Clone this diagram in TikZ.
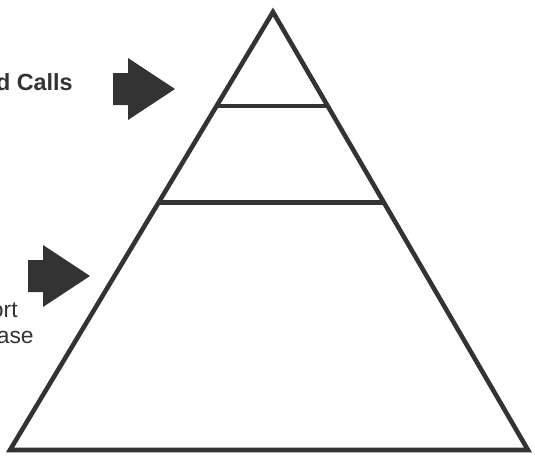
\documentclass[tikz,border=0pt]{standalone}
\usepackage{fontspec}
\setsansfont{Liberation Sans}
\usetikzlibrary{calc,positioning}
\definecolor{ink}{HTML}{333333}
\tikzset{
  layer/.style={line width=2.6pt,draw=ink,line join=miter},
  tag/.style={font=\sffamily\fontsize{13}{15}\selectfont,text=ink,inner sep=0pt},
  bigarrow/.pic={\fill[ink] (-62,-16) -- (-47,-16) -- (-47,-31) -- (0,0) -- (-47,31) -- (-47,16) -- (-62,16) -- cycle;}
}
\begin{document}
\begin{tikzpicture}[x=0.02cm,y=-0.02cm]
\useasboundingbox (0,0) rectangle (535,457);
\coordinate (top) at (273,12);
\coordinate (left) at (10,450);
\coordinate (right) at (528,450);
\draw[layer] (left) -- (top) -- (right) -- cycle;
% layer lines
\coordinate (l1) at ($(top)!0.215!(left)$);
\coordinate (r1) at ($(top)!0.215!(right)$);
\coordinate (l2) at ($(top)!0.435!(left)$);
\coordinate (r2) at ($(top)!0.435!(right)$);
\draw[layer] (l1) -- (r1);
\draw[layer] (l2) -- (r2);
% arrows and labels
\pic (callsarrow) at (175,89) {bigarrow};
\pic (basearrow) at (90,276) {bigarrow};
\node[tag,font=\sffamily\bfseries\fontsize{13.3}{15}\selectfont,anchor=base east] (calls) at (73,90) {d Calls};
\node[tag,anchor=base east] (ort) at (18,317) {ort};
\node[tag,anchor=base east] (ase) at (34,343) {ase};
\end{tikzpicture}
\end{document}
